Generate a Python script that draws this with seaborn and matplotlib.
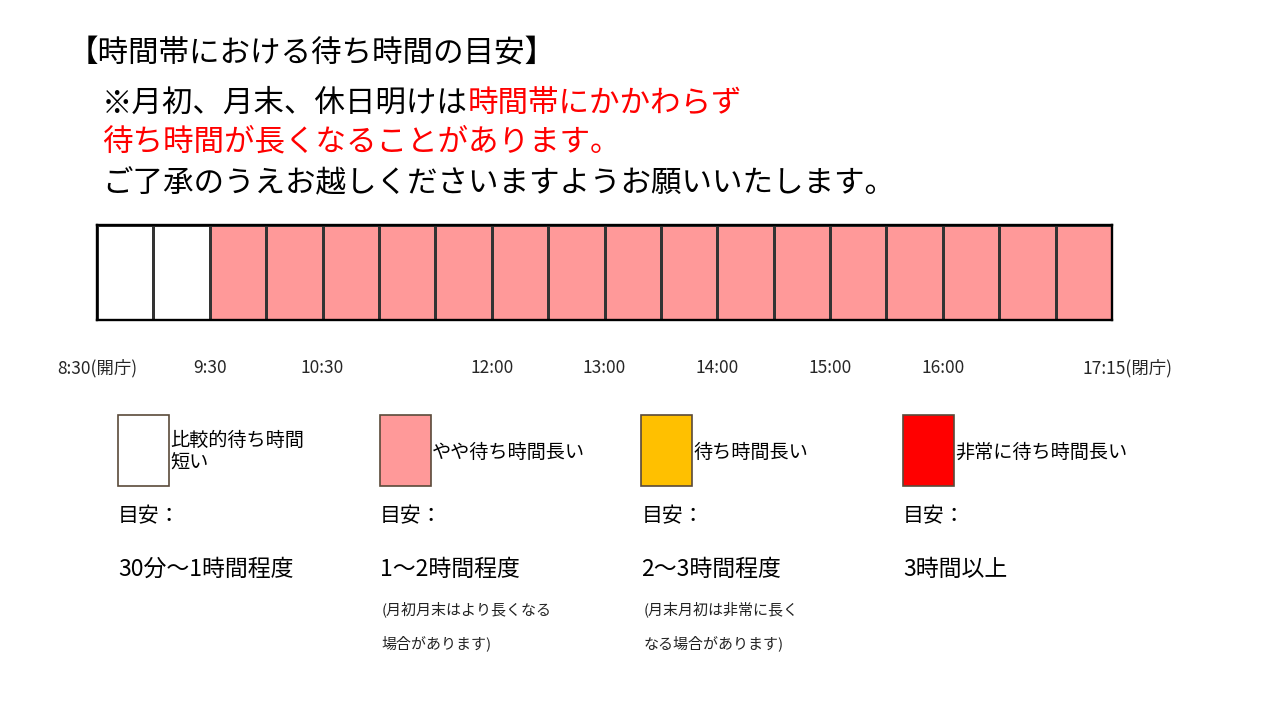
import numpy as np
import matplotlib
matplotlib.use("Agg")
import matplotlib.pyplot as plt
from matplotlib.colors import ListedColormap
from matplotlib.patches import Rectangle
from matplotlib.transforms import ScaledTranslation
import seaborn as sns

sns.set_theme(style="white")
plt.rcParams['font.family'] = ['Noto Sans CJK JP', 'DejaVu Sans']

# --- data ---
# wait level per 30-minute slot (0: short, 1: somewhat long, 2: long, 3: very long)
slot_levels = [0, 0, 1, 1, 1, 1, 1, 1, 1, 1, 1, 1, 1, 1, 1, 1, 1, 1]
tick_slots = [0, 2, 4, 7, 9, 11, 13, 15, 18]
tick_labels = ["8:30(開庁)", "9:30", "10:30", "12:00", "13:00", "14:00",
               "15:00", "16:00", "17:15(閉庁)"]
level_colors = ["#FFFFFF", "#FF9999", "#FFC000", "#FF0000"]
level_names = ["比較的待ち時間\n短い", "やや待ち時間長い", "待ち時間長い", "非常に待ち時間長い"]
level_ranges = ["30分～1時間程度", "1～2時間程度", "2～3時間程度", "3時間以上"]
level_notes = [[], ["(月初月末はより長くなる", "場合があります)"],
               ["(月末月初は非常に長く", "なる場合があります)"], []]

title = "【時間帯における待ち時間の目安】"
note_black = "※月初、月末、休日明けは"
note_red1 = "時間帯にかかわらず"
note_red2 = "待ち時間が長くなることがあります。"
note_last = "ご了承のうえお越しくださいますようお願いいたします。"

W, H = 1280, 720
fig = plt.figure(figsize=(12.8, 7.2), dpi=100)
fig.patch.set_facecolor("white")

# background axes in pixel coordinates for the text blocks
bg = fig.add_axes([0, 0, 1, 1])
bg.set_xlim(0, W)
bg.set_ylim(H, 0)
bg.axis("off")

red = "#FF0000"
fs_big = 22
bg.text(68, 53, title, fontsize=fs_big, va="center", ha="left", color="black")
t2 = bg.text(102, 103, note_black, fontsize=fs_big, va="center", ha="left", color="black")
bg.annotate(note_red1, xy=(1, 0), xycoords=t2, va="bottom", ha="left",
            fontsize=fs_big, color=red)
bg.text(102, 142, note_red2, fontsize=fs_big, va="center", ha="left", color=red)
bg.text(102, 184, note_last, fontsize=fs_big, va="center", ha="left", color="black")

# time strip drawn as a one-row heatmap
left, right, top, bottom = 97, 1112, 225, 320
ax = fig.add_axes([left / W, 1 - bottom / H, (right - left) / W, (bottom - top) / H])
cmap = ListedColormap(level_colors)
sns.heatmap(np.array([slot_levels]), cmap=cmap, vmin=-0.5, vmax=len(level_colors) - 0.5,
            cbar=False, linewidths=0.85, linecolor="#333333", ax=ax)
ax.set_yticks([])
ax.set_xticks(tick_slots)
ax.set_xticklabels(tick_labels, rotation=0, fontsize=12.5)
ax.set_xlim(0, len(slot_levels))
ax.tick_params(axis="x", length=0, pad=28)
last = ax.get_xticklabels()[-1]
last.set_transform(last.get_transform() + ScaledTranslation(15 / 100, 0, fig.dpi_scale_trans))
for sp in ax.spines.values():
    sp.set_visible(True)
    sp.set_color("black")
    sp.set_linewidth(1.7)

# legend blocks
for i in range(len(level_colors)):
    x0 = 118 + i * 261.7
    bg.add_patch(Rectangle((x0, 415), 51, 71, facecolor=level_colors[i],
                           edgecolor="#5a4a3a", linewidth=1.2))
    bg.text(x0 + 52, 452, level_names[i], fontsize=13.8, va="center", ha="left",
            color="black", linespacing=1.1)
    bg.text(x0, 516, "目安：", fontsize=15, va="center", ha="left", color="black")
    bg.text(x0, 569, level_ranges[i], fontsize=16.5, va="center", ha="left", color="black")
    for j, line in enumerate(level_notes[i]):
        bg.text(x0 + 2, 609 + j * 34, line, fontsize=10.8, va="center", ha="left",
                color="#222222")

fig.savefig("out.png", dpi=100, facecolor="white")
